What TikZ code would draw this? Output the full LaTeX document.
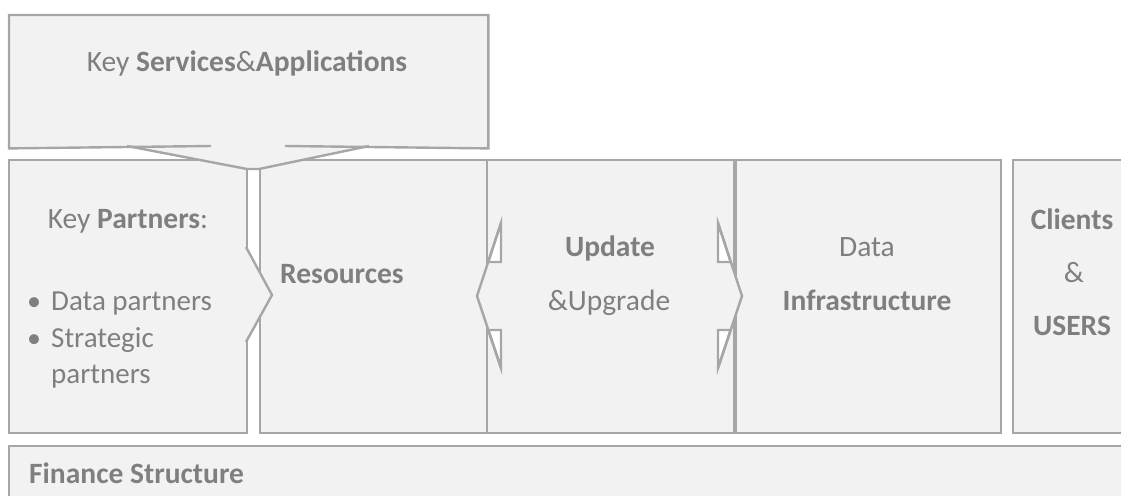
\documentclass[tikz,border=0pt]{standalone}
\usepackage{fontspec}
\setmainfont{Carlito}
\definecolor{boxfill}{HTML}{F2F2F2}
\definecolor{boxline}{HTML}{A6A6A6}
\definecolor{txtgray}{HTML}{7F7F7F}
\newcommand{\listdot}{\makebox[24pt][l]{\fontsize{28}{28}\selectfont\textbullet}}
\begin{document}
\begin{tikzpicture}[x=1pt, y=-1pt,
    box/.style={rectangle, draw=boxline, fill=boxfill, line width=2.4pt, anchor=north west, inner sep=0pt},
    txt/.style={text=txtgray, font=\fontsize{29.5}{34}\selectfont, anchor=base, inner sep=0pt},
    small/.style={txt, font=\fontsize{29}{34}\selectfont, anchor=base west},
    notch/.style={draw=boxline, fill=white, line width=2.4pt},
    tip/.style={draw=boxline, line width=2.4pt}]
    \useasboundingbox (0,0) rectangle (1121,495);

    \node [box, minimum width=238pt, minimum height=273pt] (partners) at (8,159) {};
    \node [box, minimum width=227pt, minimum height=273pt] (resources) at (259,159) {};
    \node [box, minimum width=247pt, minimum height=273pt] (update) at (486,159) {};
    \node [box, minimum width=265pt, minimum height=273pt] (infra) at (735,159) {};
    \node [box, minimum width=130pt, minimum height=273pt] (clients) at (1012,159) {};
    \node [box, minimum width=1140pt, minimum height=80pt] (finance) at (8,445) {};

    \fill [boxfill] (244.5,247) -- (272,295) -- (244.5,342) -- cycle;
    \draw [tip] (246,247) -- (272,295) -- (246,342);

    \fill [boxfill] (488.2,262) -- (477,296) -- (488.3,330) -- cycle;
    \draw [notch] (501,223) -- (501,262) -- (488.2,262) -- cycle;
    \draw [notch] (501,368) -- (501,330) -- (488.3,330) -- cycle;
    \draw [tip] (501,223) -- (477,296) -- (501,368);

    \fill [boxfill] (730.8,262) -- (742,296) -- (730.7,330) -- cycle;
    \draw [notch] (718,223) -- (718,262) -- (730.8,262) -- cycle;
    \draw [notch] (718,368) -- (718,330) -- (730.7,330) -- cycle;
    \draw [tip] (718,223) -- (742,296) -- (718,368);

    \node [box, draw=none, minimum width=477pt, minimum height=131pt] (services) at (9,15) {};
    \fill [boxfill] (127,146) -- (247,169) -- (259,169) -- (369,146) -- cycle;
    \draw [tip] (127,146) -- (247,169) -- (259,169) -- (369,146);
    \draw [tip] (211,146) -- (services.south west) -- (services.north west)
        -- (services.north east) -- (services.south east) -- (285,146);

    \node [txt] (servicestext) at (247,71) {Key \textbf{Services}\&\textbf{Applications}};
    \node [txt] (partnerstext) at (128,228) {Key \textbf{Partners}:};
    \node [small] (bulletdata) at (27,310) {\listdot Data partners};
    \node [small] (bulletstrat) at (27,347) {\listdot Strategic};
    \node [small] (bulletcont) at (51,383) {partners};
    \node [txt, anchor=base west] (resourcestext) at (280,283) {\textbf{Resources}};
    \node [txt] (updatetext) at (610,256) {\textbf{Update}};
    \node [txt] (upgradetext) at (609,310) {\&Upgrade};
    \node [txt] (datatext) at (867,256) {Data};
    \node [txt] (infratext) at (867,310) {\textbf{Infrastructure}};
    \node [txt] (clientstext) at (1072,229) {\textbf{Clients}};
    \node [txt] (amptext) at (1074,282) {\&};
    \node [txt] (userstext) at (1072,335) {\textbf{USERS}};
    \node [txt, anchor=base west] (financetext) at (29,483) {\textbf{Finance Structure}};
\end{tikzpicture}
\end{document}
